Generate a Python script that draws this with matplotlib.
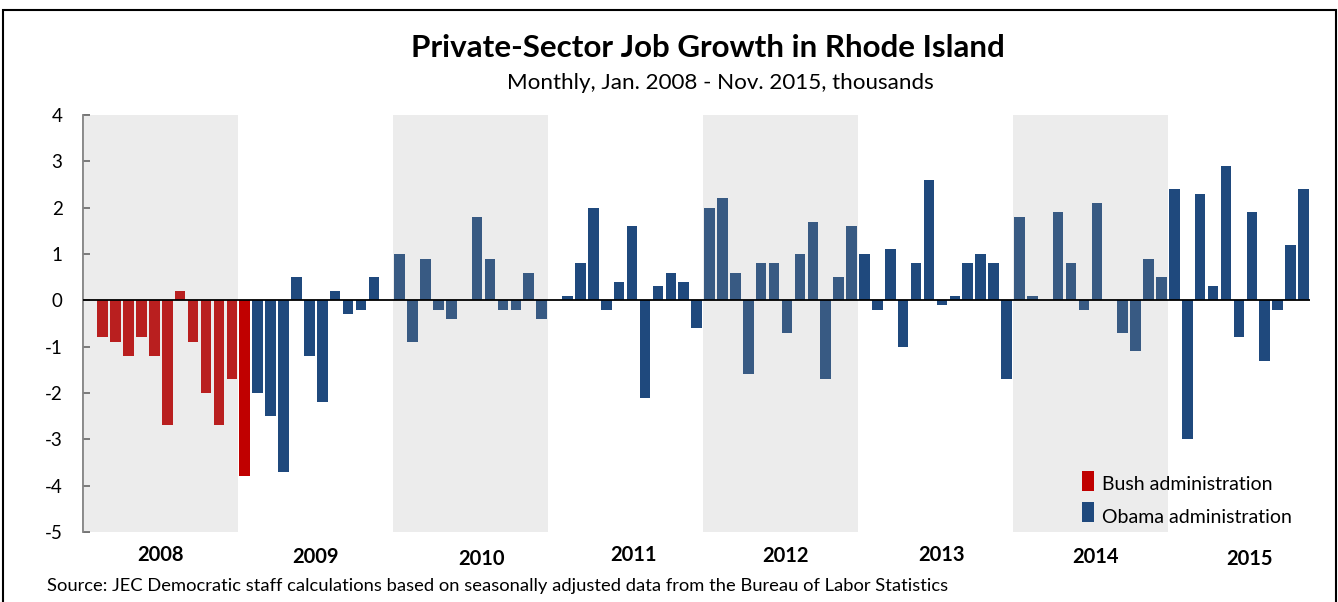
import matplotlib
matplotlib.use("Agg")
import matplotlib.pyplot as plt
from matplotlib.patches import Rectangle
import numpy as np

# ---- data (thousands, monthly change) ----
years = ["2008", "2009", "2010", "2011", "2012", "2013", "2014", "2015"]
bush_values = [0.0, -0.8, -0.9, -1.2, -0.8, -1.2, -2.7, 0.2, -0.9, -2.0, -2.7, -1.7,  # 2008
               -3.8]                                                                 # Jan 2009
obama_values = [
    -2.0, -2.5, -3.7, 0.5, -1.2, -2.2, 0.2, -0.3, -0.2, 0.5, 0.0,              # Feb-Dec 2009
    1.0, -0.9, 0.9, -0.2, -0.4, 0.0, 1.8, 0.9, -0.2, -0.2, 0.6, -0.4,          # 2010
    0.0, 0.1, 0.8, 2.0, -0.2, 0.4, 1.6, -2.1, 0.3, 0.6, 0.4, -0.6,             # 2011
    2.0, 2.2, 0.6, -1.6, 0.8, 0.8, -0.7, 1.0, 1.7, -1.7, 0.5, 1.6,             # 2012
    1.0, -0.2, 1.1, -1.0, 0.8, 2.6, -0.1, 0.1, 0.8, 1.0, 0.8, -1.7,            # 2013
    1.8, 0.1, 0.0, 1.9, 0.8, -0.2, 2.1, 0.0, -0.7, -1.1, 0.9, 0.5,             # 2014
    2.4, -3.0, 2.3, 0.3, 2.9, -0.8, 1.9, -1.3, -0.2, 1.2, 2.4,                 # Jan-Nov 2015
]
shaded_years = ["2008", "2010", "2012", "2014"]
y_ticks = [4, 3, 2, 1, 0, -1, -2, -3, -4, -5]
legend_labels = ["Bush administration", "Obama administration"]

BUSH = "#C00000"
OBAMA = "#1F497D"
FONT = "Lato"
W, H = 1338, 602

fig = plt.figure(figsize=(13.38, 6.02), dpi=100)
ax = fig.add_axes([0.0623, 0.1163, 0.9167, 0.6927])

n_b = len(bush_values)
n_all = n_b + len(obama_values)
x_b = np.arange(n_b)
x_o = np.arange(n_b, n_all)
ax.bar(x_b, bush_values, width=0.82, color=BUSH, zorder=2, linewidth=0)
ax.bar(x_o, obama_values, width=0.82, color=OBAMA, zorder=2, linewidth=0)

# shaded alternate years (translucent overlay, as in the original)
for yr in shaded_years:
    i = years.index(yr)
    ax.axvspan(i * 12 - 0.5, i * 12 + 11.5, color="#A0A0A0", alpha=0.2, lw=0, zorder=3)

ax.axhline(0, color="black", lw=1.3, zorder=4)

ax.set_xlim(-0.5, n_all - 0.5)
ax.set_ylim(-5, 4)
ax.set_yticks(y_ticks)
ax.set_yticklabels([str(v) for v in y_ticks], fontsize=13.5, family=FONT)
ax.tick_params(axis="y", direction="in", length=5, width=1.2, color="#595959", pad=15)
ax.set_xticks([])
for s in ["top", "right", "bottom"]:
    ax.spines[s].set_visible(False)
ax.spines["left"].set_color("#7F7F7F")
ax.spines["left"].set_linewidth(1.3)

# year labels
x_offsets = [0.0, 0.0, 0.8, 0.6, 0.4, 0.5, 0.4, 0.8]
y_offsets = [-0.49, -0.53, -0.58, -0.49, -0.51, -0.49, -0.54, -0.58]
for i, yr in enumerate(years):
    last = min(i * 12 + 11, n_all - 1)
    xc = (i * 12 + last) / 2 + x_offsets[i]
    ax.text(xc, -5 + y_offsets[i], yr, ha="center", va="center", fontsize=14.5,
            fontweight="bold", family=FONT, clip_on=False)

fig.text(0.5288, 0.920, "Private-Sector Job Growth in Rhode Island", ha="center", va="center",
         fontsize=22.6, fontweight="bold", family=FONT)
fig.text(0.5385, 0.862, "Monthly, Jan. 2008 - Nov. 2015, thousands", ha="center", va="center",
         fontsize=16.1, family=FONT)
fig.text(47 / W, 0.0266, "Source: JEC Democratic staff calculations based on seasonally adjusted data from the Bureau of Labor Statistics",
         ha="left", va="center", fontsize=13.2, family=FONT)

# legend (manual, matching the original's tall narrow swatches)
for k, (lab, col) in enumerate(zip(legend_labels, [BUSH, OBAMA])):
    top = 471 + 31 * k
    fig.patches.append(Rectangle((1082 / W, 1 - (top + 20) / H), 12 / W, 20 / H,
                                 transform=fig.transFigure, facecolor=col, edgecolor="none", zorder=6))
    fig.text(1102 / W, 1 - (top + 14 + 1.5 * k) / H, lab, ha="left", va="center", fontsize=14,
             family=FONT, zorder=6)

# outer frame
fig.patches.append(Rectangle((3 / W, -0.05), 1333 / W, 1 - 10 / H + 0.05,
                             transform=fig.transFigure, fill=False, edgecolor="black", lw=1.5))

fig.savefig("out.png", dpi=100)
